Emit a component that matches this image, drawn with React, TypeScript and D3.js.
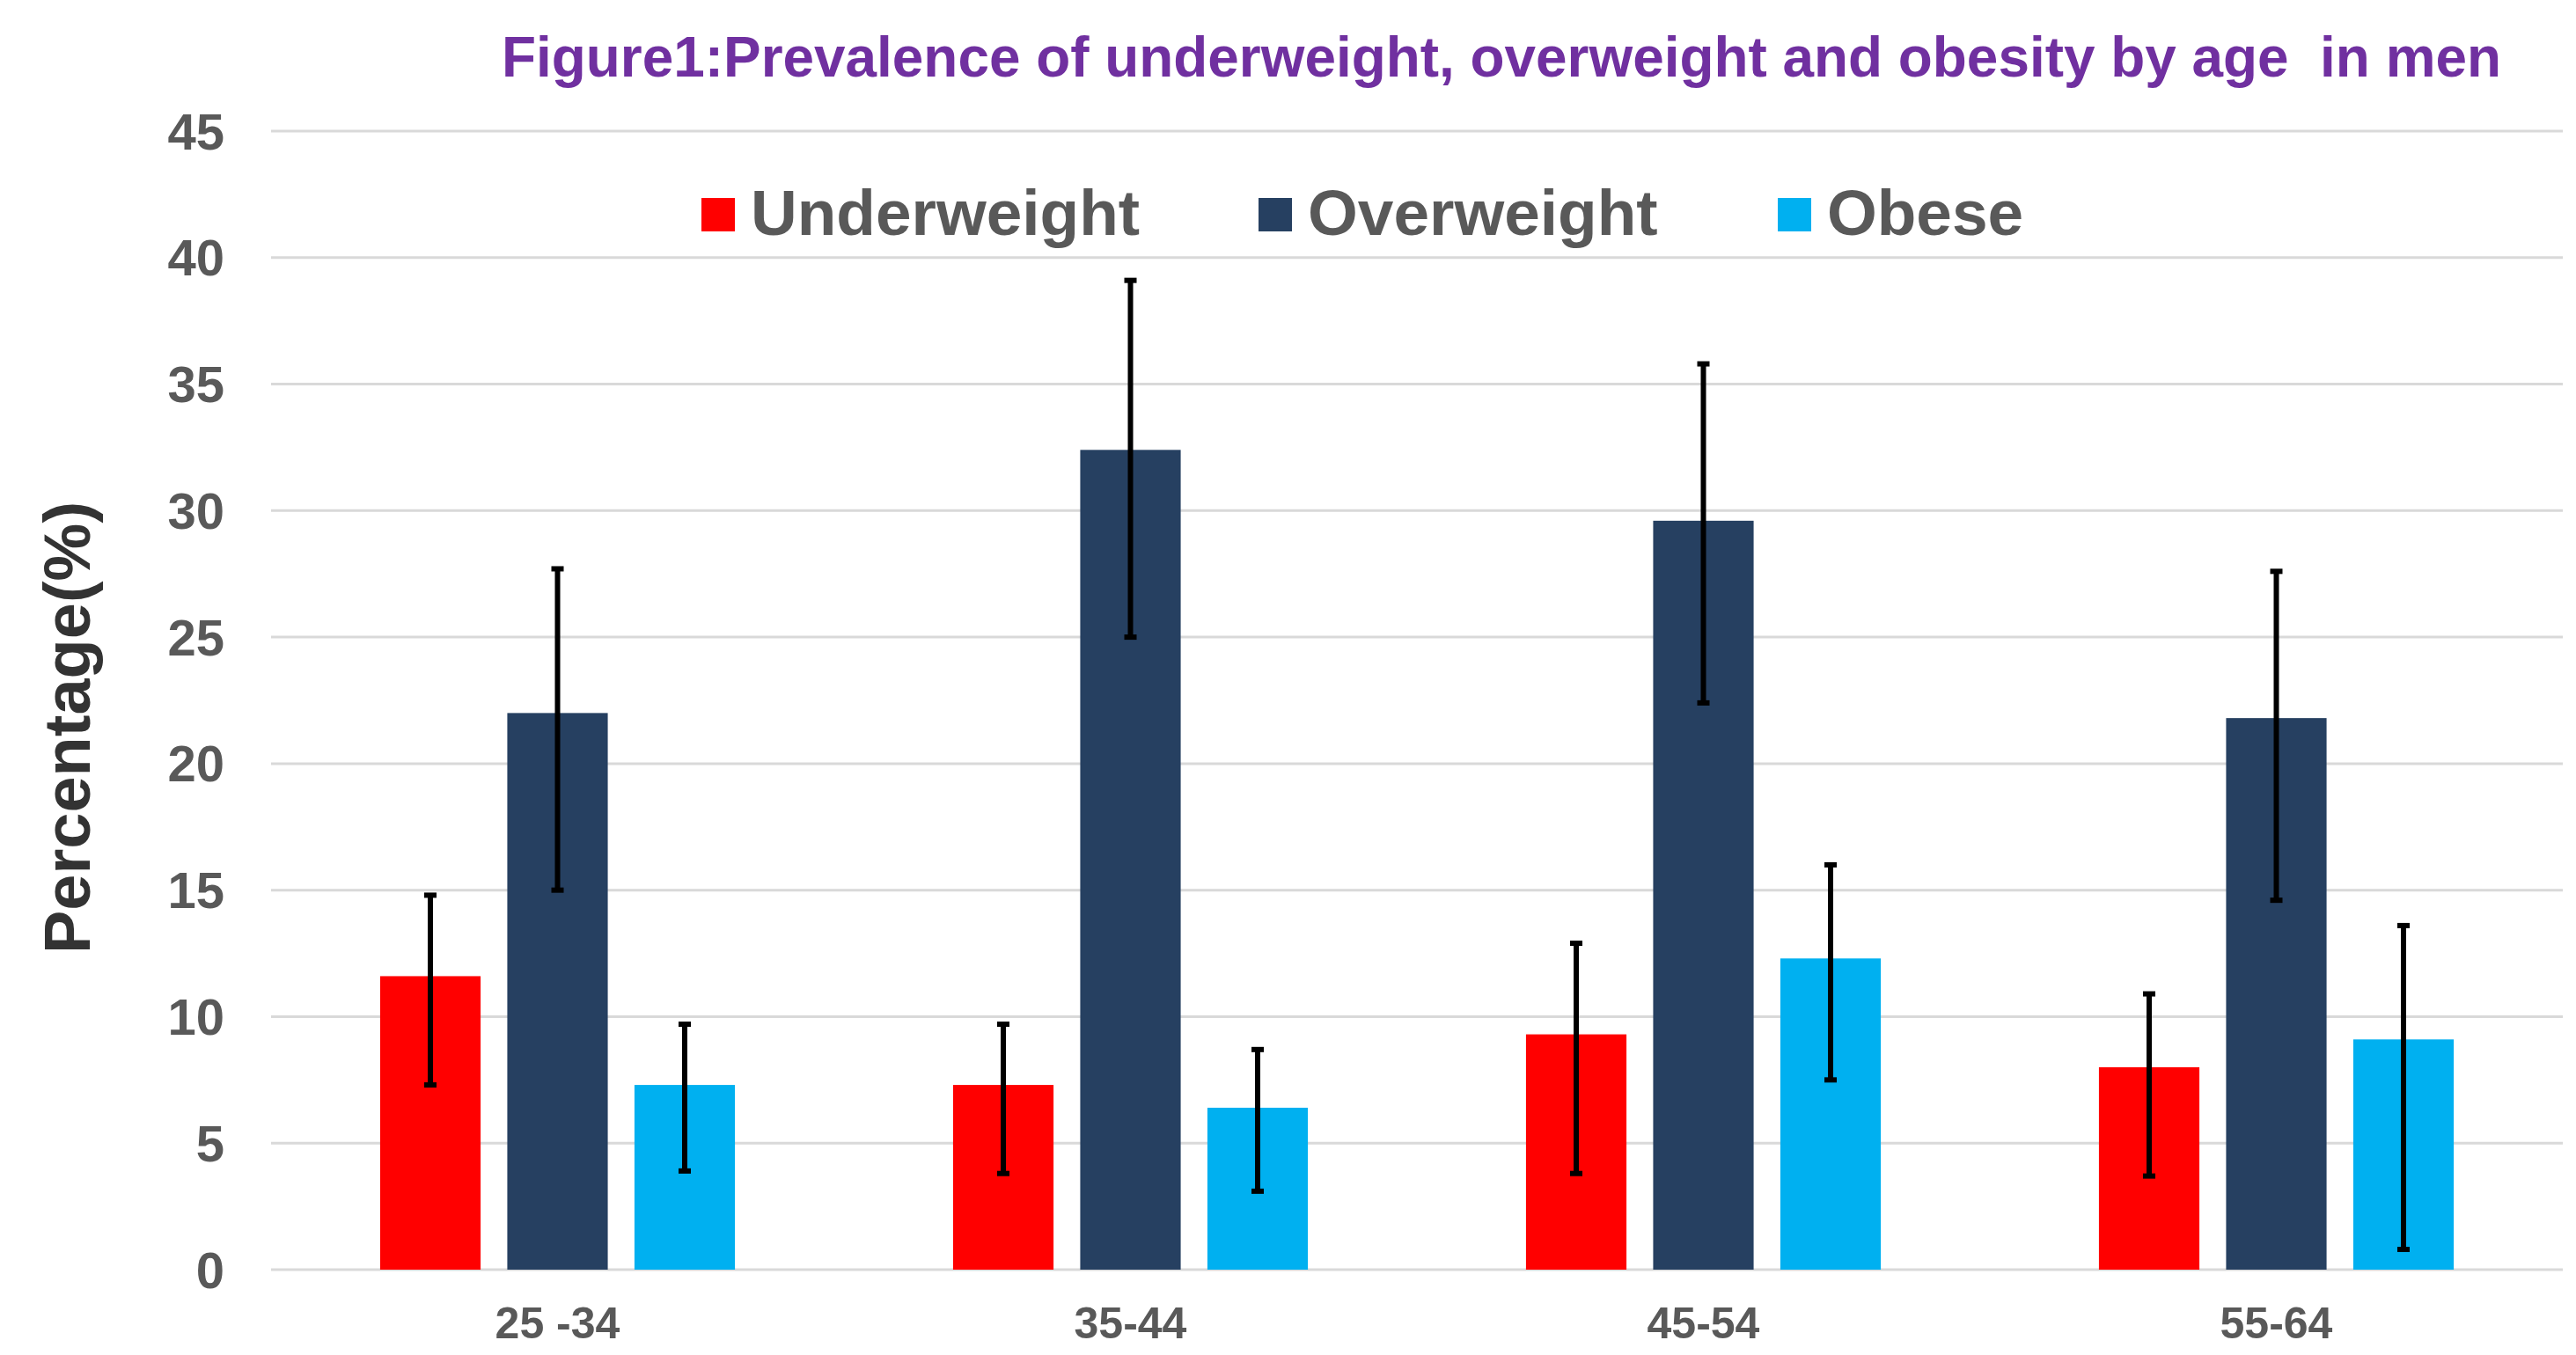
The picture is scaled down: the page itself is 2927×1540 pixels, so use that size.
import React from "react";
import * as d3 from "d3";

const categories = ["25 -34", "35-44", "45-54", "55-64"];
const seriesNames = ["Underweight", "Overweight", "Obese"];
const seriesColors = ["#FF0000", "#264061", "#00B0F0"];

const underweight = [11.6, 7.3, 9.3, 8.0];
const underweightLow = [7.3, 3.8, 3.8, 3.7];
const underweightHigh = [14.8, 9.7, 12.9, 10.9];

const overweight = [22.0, 32.4, 29.6, 21.8];
const overweightLow = [15.0, 25.0, 22.4, 14.6];
const overweightHigh = [27.7, 39.1, 35.8, 27.6];

const obese = [7.3, 6.4, 12.3, 9.1];
const obeseLow = [3.9, 3.1, 7.5, 0.8];
const obeseHigh = [9.7, 8.7, 16.0, 13.6];

const yTicks = [0, 5, 10, 15, 20, 25, 30, 35, 40, 45];

const title = "Figure1:Prevalence of underweight, overweight and obesity by age  in men";
const yTitle = "Percentage(%)";

const values = [underweight, overweight, obese];
const lows = [underweightLow, overweightLow, obeseLow];
const highs = [underweightHigh, overweightHigh, obeseHigh];

export default function App() {
  const W = 2927;
  const H = 1540;
  const left = 308;
  const right = 2912;
  const top = 149;
  const bottom = 1443;

  const x0 = d3.scaleBand<string>().domain(categories).range([left, right]).padding(0);
  const x1 = d3
    .scaleBand<string>()
    .domain(seriesNames)
    .range([-216.75, 216.75])
    .paddingInner(0.21)
    .paddingOuter(0.105);
  const y = d3.scaleLinear().domain([0, 45]).range([bottom, top]);

  const font = "'Liberation Sans', Arial, sans-serif";
  const legendX = [797, 1430, 2020];

  return (
    <svg
      width={W}
      height={H}
      style={{ position: "absolute", left: 0, top: 0, background: "#fff" }}
      fontFamily={font}
    >
      <rect x={0} y={0} width={W} height={H} fill="#ffffff" />
      {yTicks.map((t) => (
        <line
          key={"g" + t}
          x1={left}
          x2={right}
          y1={y(t)}
          y2={y(t)}
          stroke="#D9D9D9"
          strokeWidth={3}
        />
      ))}
      {yTicks.map((t) => (
        <text
          key={"t" + t}
          x={255}
          y={y(t)}
          dy="0.355em"
          textAnchor="end"
          fontSize={58}
          fontWeight="bold"
          fill="#595959"
        >
          {t}
        </text>
      ))}
      {categories.map((c, ci) => (
        <g key={c} transform={`translate(${(x0(c) ?? 0) + x0.bandwidth() / 2},0)`}>
          {seriesNames.map((s, si) => {
            const bx = x1(s) ?? 0;
            const bw = x1.bandwidth();
            const v = values[si][ci];
            const cx = bx + bw / 2;
            const yl = y(lows[si][ci]);
            const yh = y(highs[si][ci]);
            return (
              <g key={s}>
                <rect x={bx} y={y(v)} width={bw} height={bottom - y(v)} fill={seriesColors[si]} />
                <line x1={cx} x2={cx} y1={yh} y2={yl} stroke="#000" strokeWidth={6} />
                <line x1={cx - 7} x2={cx + 7} y1={yh} y2={yh} stroke="#000" strokeWidth={6} />
                <line x1={cx - 7} x2={cx + 7} y1={yl} y2={yl} stroke="#000" strokeWidth={6} />
              </g>
            );
          })}
        </g>
      ))}
      {categories.map((c) => (
        <text
          key={"x" + c}
          x={(x0(c) ?? 0) + x0.bandwidth() / 2}
          y={1521}
          textAnchor="middle"
          fontSize={50}
          fontWeight="bold"
          fill="#595959"
        >
          {c}
        </text>
      ))}
      <text
        transform="translate(102,827) rotate(-90)"
        textAnchor="middle"
        fontSize={74}
        fontWeight="bold"
        fill="#333333"
      >
        {yTitle}
      </text>
      <text
        x={570}
        y={87}
        fontSize={64}
        fontWeight="bold"
        fill="#7030A0"
        textLength={2272}
        lengthAdjust="spacingAndGlyphs"
        style={{ whiteSpace: "pre" }}
        xmlSpace="preserve"
      >
        {title}
      </text>
      {seriesNames.map((s, i) => (
        <g key={"l" + s}>
          <rect x={legendX[i]} y={225} width={38} height={38} fill={seriesColors[i]} />
          <text
            x={legendX[i] + 56}
            y={267}
            fontSize={73}
            fontWeight="bold"
            fill="#595959"
          >
            {s}
          </text>
        </g>
      ))}
    </svg>
  );
}
